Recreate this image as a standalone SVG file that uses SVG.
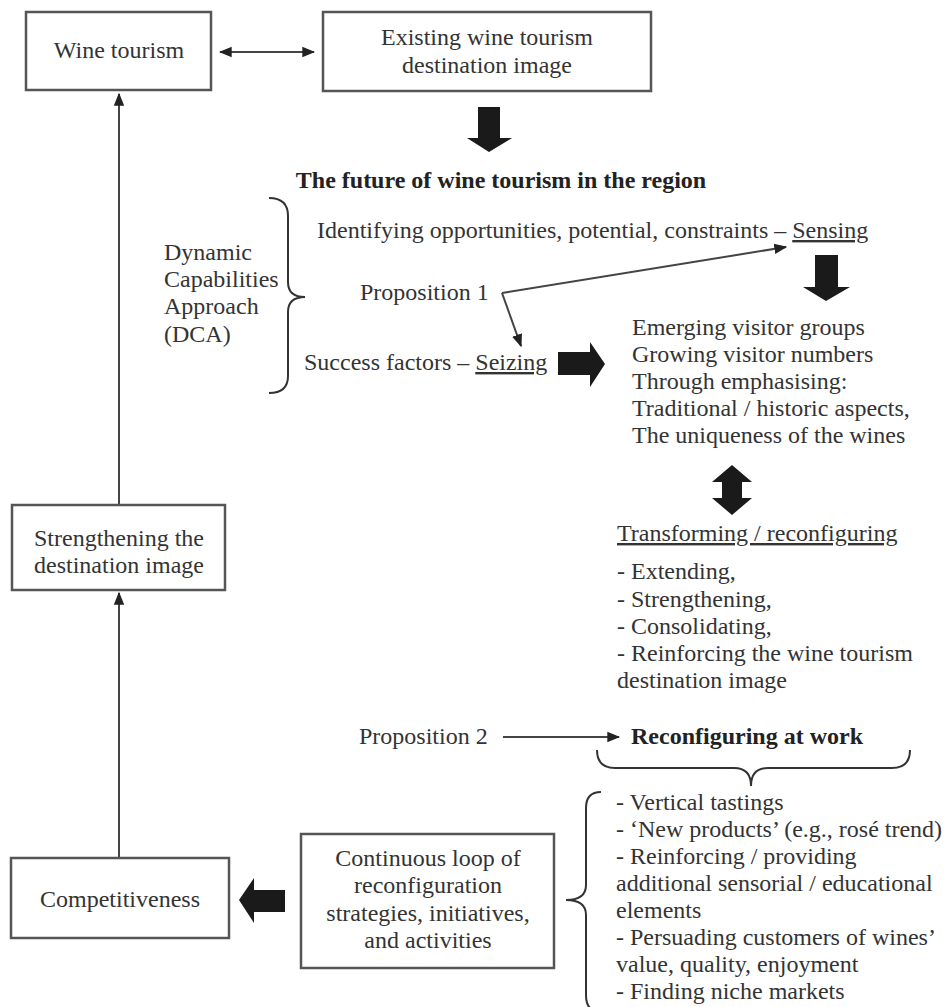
<svg xmlns="http://www.w3.org/2000/svg" width="944" height="1007" viewBox="0 0 944 1007">
<defs>
<style>
text{font-family:"Liberation Serif","Times New Roman",serif;font-size:24px;fill:#333}
.b{font-weight:bold;fill:#222}
.c{text-anchor:middle}
.box{fill:#fff;stroke:#555;stroke-width:2.5}
.ln{fill:none;stroke:#444;stroke-width:2}
.br{fill:none;stroke:#333;stroke-width:2}
.big{fill:#1a1a1a}
.u{text-decoration:underline}
</style>
<marker id="ah" viewBox="0 0 10 10" refX="9" refY="5" markerWidth="13" markerHeight="13" orient="auto-start-reverse" markerUnits="userSpaceOnUse">
<path d="M0,1 L10,5 L0,9 z" fill="#222"/>
</marker>
</defs>
<rect width="944" height="1007" fill="#fff"/>

<g id="connectors">
<line class="ln" x1="220" y1="52" x2="314" y2="52" marker-start="url(#ah)" marker-end="url(#ah)"/>
<line class="ln" x1="119" y1="505" x2="119" y2="94" marker-end="url(#ah)"/>
<line class="ln" x1="119" y1="858" x2="119" y2="593" marker-end="url(#ah)"/>
<line class="ln" x1="502" y1="293" x2="786" y2="247" marker-end="url(#ah)"/>
<line class="ln" x1="502" y1="293" x2="521" y2="346" marker-end="url(#ah)"/>
<line class="ln" x1="503" y1="737" x2="619" y2="737" marker-end="url(#ah)"/>
<path class="big" d="M478,107 H500 V138 H512 L489,152 L467,138 H478 Z"/>
<path class="big" d="M815,255 H838 V287 H850 L826,301 L803,287 H815 Z"/>
<path class="big" d="M558,352 H590 V342 L605,364 L590,387 V375 H558 Z"/>
<path class="big" d="M722,482 V498 H712 L732,515 L752,498 H742 V482 H752 L732,465 L712,482 Z"/>
<path class="big" d="M285,890 H254 V878 L239,900 L254,923 V912 H285 Z"/>
<path class="br" d="M269,198 Q288,198 288,216 V282 Q288,297 305,297 Q288,297 288,312 V376 Q288,393 269,393"/>
<path class="br" d="M597,750 Q597,768 615,768 H734 Q751,768 751,786 Q751,768 768,768 H892 Q910,768 910,750"/>
<path class="br" d="M601,792 Q586,792 586,808 V885 Q586,900 566,900 Q586,900 586,915 V995 Q586,1012 601,1012"/>
</g>

<g id="wine-tourism"><rect class="box" x="26" y="12" width="185" height="78"/><text class="c" x="119" y="58">Wine tourism</text></g>
<g id="existing-image"><rect class="box" x="323" y="12" width="328" height="79"/><text class="c" x="487" y="45">Existing wine tourism</text><text class="c" x="487" y="73">destination image</text></g>
<g id="future-title"><text class="b c" x="501" y="188">The future of wine tourism in the region</text></g>
<g id="sensing"><text x="317" y="238">Identifying opportunities, potential, constraints – <tspan class="u">Sensing</tspan></text></g>
<g id="dca"><text x="164" y="260">Dynamic</text><text x="164" y="287">Capabilities</text><text x="164" y="314">Approach</text><text x="164" y="342">(DCA)</text></g>
<g id="proposition1"><text x="360" y="300">Proposition 1</text></g>
<g id="seizing"><text x="304" y="370">Success factors – <tspan class="u">Seizing</tspan></text></g>
<g id="outcomes"><text x="632" y="335">Emerging visitor groups</text><text x="632" y="362">Growing visitor numbers</text><text x="632" y="389">Through emphasising:</text><text x="632" y="416">Traditional / historic aspects,</text><text x="632" y="443">The uniqueness of the wines</text></g>
<g id="transforming"><text class="u" x="617" y="541">Transforming / reconfiguring</text><text x="617" y="579">- Extending,</text><text x="617" y="607">- Strengthening,</text><text x="617" y="634">- Consolidating,</text><text x="617" y="661">- Reinforcing the wine tourism</text><text x="617" y="688">destination image</text></g>
<g id="proposition2"><text x="359" y="744">Proposition 2</text></g>
<g id="reconfiguring-at-work"><text class="b" x="631" y="744">Reconfiguring at work</text></g>
<g id="activities"><text x="616" y="810">- Vertical tastings</text><text x="616" y="837">- ‘New products’ (e.g., rosé trend)</text><text x="616" y="864">- Reinforcing / providing</text><text x="616" y="891">additional sensorial / educational</text><text x="616" y="918">elements</text><text x="616" y="945">- Persuading customers of wines’</text><text x="616" y="972">value, quality, enjoyment</text><text x="616" y="999">- Finding niche markets</text></g>
<g id="continuous-loop"><rect class="box" x="301" y="834" width="253" height="134"/><text class="c" x="428" y="866">Continuous loop of</text><text class="c" x="428" y="893">reconfiguration</text><text class="c" x="428" y="921">strategies, initiatives,</text><text class="c" x="428" y="948">and activities</text></g>
<g id="strengthening"><rect class="box" x="12" y="505" width="213" height="85"/><text class="c" x="119" y="546">Strengthening the</text><text class="c" x="119" y="573">destination image</text></g>
<g id="competitiveness"><rect class="box" x="11" y="858" width="218" height="80"/><text class="c" x="120" y="907">Competitiveness</text></g>
</svg>
